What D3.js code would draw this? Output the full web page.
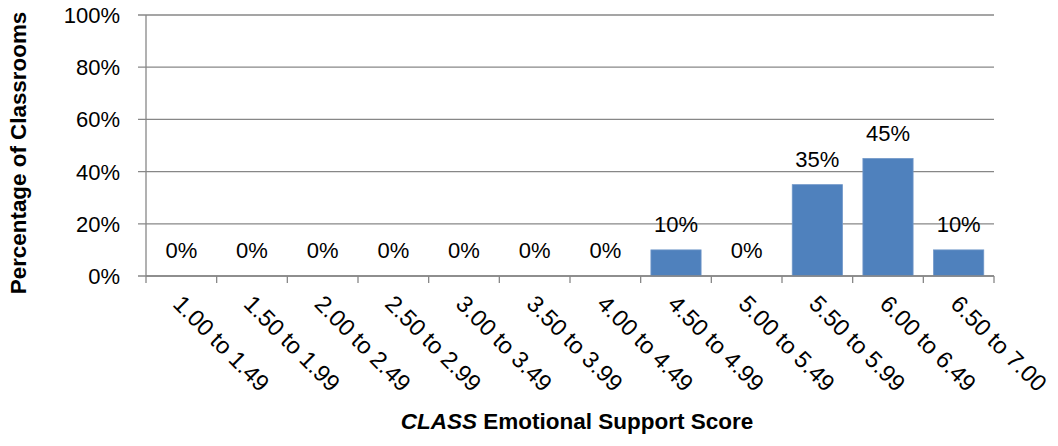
<!DOCTYPE html>
<html>
<head>
<meta charset="utf-8">
<script src="https://cdn.jsdelivr.net/npm/d3@7"></script>
<style>
  body { margin: 0; background: #fff; }
  svg { display: block; font-family: "Liberation Sans", Arial, sans-serif; }
</style>
</head>
<body>
<svg width="1058" height="446"></svg>
<script>
var categories = ["1.00 to 1.49", "1.50 to 1.99", "2.00 to 2.49", "2.50 to 2.99",
                  "3.00 to 3.49", "3.50 to 3.99", "4.00 to 4.49", "4.50 to 4.99",
                  "5.00 to 5.49", "5.50 to 5.99", "6.00 to 6.49", "6.50 to 7.00"];
var percents = [0, 0, 0, 0, 0, 0, 0, 10, 0, 35, 45, 10];
var yTicks = [0, 20, 40, 60, 80, 100];

// note: "top" is taken by window.top, so plot edges get their own names
var svg = d3.select("svg"),
    plotLeft = 146, plotRight = 994, plotTop = 15, plotBottom = 276,
    grey = "#878787";

var x = d3.scaleBand()
    .domain(categories)
    .range([plotLeft, plotRight])
    .paddingInner(0.29)
    .paddingOuter(0.145);

var y = d3.scaleLinear()
    .domain([0, 100])
    .range([plotBottom, plotTop]);

// gridlines + y ticks
svg.append("g")
  .selectAll("line")
  .data(yTicks)
  .enter().append("line")
    .attr("x1", plotLeft - 8)
    .attr("x2", plotRight)
    .attr("y1", function(d) { return y(d); })
    .attr("y2", function(d) { return y(d); })
    .attr("stroke", grey)
    .attr("stroke-width", 1.3);

svg.append("g")
  .selectAll("text")
  .data(yTicks)
  .enter().append("text")
    .attr("x", 120)
    .attr("y", function(d) { return y(d); })
    .attr("dy", "0.36em")
    .attr("text-anchor", "end")
    .style("font-size", "22px")
    .text(function(d) { return d + "%"; });

// y axis line
svg.append("line")
    .attr("x1", plotLeft).attr("x2", plotLeft)
    .attr("y1", plotTop).attr("y2", plotBottom)
    .attr("stroke", grey)
    .attr("stroke-width", 1.3);

// bars
svg.append("g")
  .selectAll("rect")
  .data(percents)
  .enter().append("rect")
    .attr("x", function(d, i) { return x(categories[i]); })
    .attr("y", function(d) { return y(d); })
    .attr("width", x.bandwidth())
    .attr("height", function(d) { return y(0) - y(d); })
    .attr("fill", "#4F81BD")
    .attr("stroke", "#6F96C8")
    .attr("stroke-width", 0.8);

// data labels
svg.append("g")
  .selectAll("text")
  .data(percents)
  .enter().append("text")
    .attr("x", function(d, i) { return x(categories[i]) + x.bandwidth() / 2; })
    .attr("y", function(d) { return y(d) - 18; })
    .attr("text-anchor", "middle")
    .style("font-size", "22px")
    .text(function(d) { return d + "%"; });

// x axis with ticks at band edges
var step = x.step();
svg.append("line")
    .attr("x1", plotLeft).attr("x2", plotRight)
    .attr("y1", plotBottom).attr("y2", plotBottom)
    .attr("stroke", grey)
    .attr("stroke-width", 1.3);

svg.append("g")
  .selectAll("line")
  .data(d3.range(categories.length + 1))
  .enter().append("line")
    .attr("x1", function(i) { return plotLeft + i * step; })
    .attr("x2", function(i) { return plotLeft + i * step; })
    .attr("y1", plotBottom)
    .attr("y2", plotBottom + 7)
    .attr("stroke", grey)
    .attr("stroke-width", 1.3);

// rotated category labels
svg.append("g")
  .selectAll("text")
  .data(categories)
  .enter().append("text")
    .attr("transform", function(d) {
      return "translate(" + (x(d) + x.bandwidth() / 2) + "," + plotBottom + ") rotate(45)";
    })
    .attr("x", 14)
    .attr("y", 19)
    .attr("dy", "0.36em")
    .style("font-size", "23.5px")
    .text(function(d) { return d; });

// axis titles
var xTitle = svg.append("text")
    .attr("x", (plotLeft + plotRight) / 2 + 7)
    .attr("y", 429)
    .attr("text-anchor", "middle")
    .style("font-size", "22.5px")
    .style("font-weight", "bold");
xTitle.append("tspan").style("font-style", "italic").text("CLASS");
xTitle.append("tspan").text(" Emotional Support Score");

svg.append("text")
    .attr("transform", "translate(26,153) rotate(-90)")
    .attr("text-anchor", "middle")
    .style("font-size", "22.4px")
    .style("font-weight", "bold")
    .text("Percentage of Classrooms");
</script>
</body>
</html>
